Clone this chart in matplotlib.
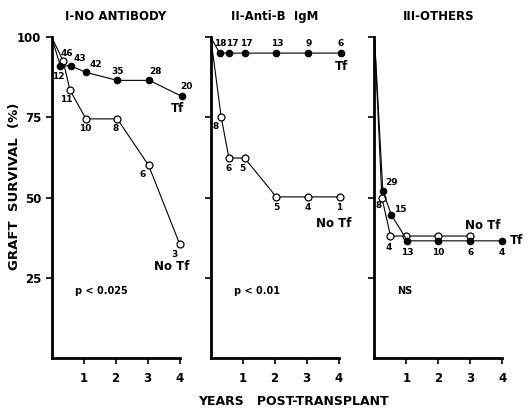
import matplotlib
matplotlib.use('Agg')
import matplotlib.pyplot as plt

plt.rcParams['font.family'] = ['DejaVu Sans']
plt.rcParams['font.weight'] = 'bold'

# panel titles and p-values
titles = ['I-NO ANTIBODY', 'II-Anti-B  IgM', 'III-OTHERS']
pvals = ['p < 0.025', 'p < 0.01', 'NS']

# I - no antibody
i_tf_x = [0, 0.27, 0.6, 1.07, 2.05, 3.05, 4.07]
i_tf_y = [100, 91, 91, 89, 86.5, 86.5, 81.5]
i_notf_x = [0, 0.36, 0.57, 1.07, 2.05, 3.03, 4.0]
i_notf_y = [100, 92.5, 83.5, 74.5, 74.5, 60, 35.5]

# II - anti-B IgM
ii_tf_x = [0, 0.28, 0.58, 1.07, 2.05, 3.05, 4.06]
ii_tf_y = [100, 95, 95, 95, 95, 95, 95]
ii_notf_x = [0, 0.33, 0.57, 1.06, 2.05, 3.05, 4.05]
ii_notf_y = [100, 75, 62.3, 62.3, 50.2, 50.2, 50.2]

# III - others
iii_tf_x = [0, 0.26, 0.53, 1.03, 2.0, 3.0, 3.97]
iii_tf_y = [100, 52, 44.5, 36.5, 36.5, 36.5, 36.5]
iii_notf_x = [0, 0.23, 0.5, 1.0, 1.98, 2.98]
iii_notf_y = [100, 50, 38, 38, 38, 38]

# numbers at risk (label text, x, y)
i_labels = [('46', 0.47, 95), ('12', 0.21, 87.6), ('43', 0.89, 93.3), ('42', 1.37, 91.3),
            ('35', 2.05, 89.2), ('28', 3.24, 89.2), ('20', 4.2, 84.7), ('11', 0.47, 80.5),
            ('10', 1.05, 71.5), ('8', 2.0, 71.5), ('6', 2.84, 57.1), ('3', 3.84, 32.4)]
ii_labels = [('18', 0.29, 98), ('17', 0.68, 98), ('17', 1.11, 98), ('13', 2.07, 98),
             ('9', 3.07, 98), ('6', 4.06, 98), ('8', 0.16, 72.2), ('6', 0.57, 59),
             ('5', 0.99, 59), ('5', 2.04, 47), ('4', 3.02, 47), ('1', 4.03, 47)]
iii_labels = [('29', 0.53, 54.8), ('8', 0.12, 47.5), ('15', 0.81, 46.2), ('4', 0.46, 34.3),
              ('13', 1.03, 32.9), ('10', 2.0, 32.9), ('6', 3.0, 32.9), ('4', 3.97, 32.9)]

# group names (text, x, y)
i_names = [('Tf', 3.94, 77.7), ('No Tf', 3.76, 28.4)]
ii_names = [('Tf', 4.1, 90.7), ('No Tf', 3.85, 41.8)]
iii_names = [('No Tf', 3.39, 41.3), ('Tf', 4.45, 36.6)]

panels = [
    (i_tf_x, i_tf_y, i_notf_x, i_notf_y, i_labels, i_names),
    (ii_tf_x, ii_tf_y, ii_notf_x, ii_notf_y, ii_labels, ii_names),
    (iii_tf_x, iii_tf_y, iii_notf_x, iii_notf_y, iii_labels, iii_names),
]
lefts = [0.0975, 0.3975, 0.7066]

fig = plt.figure(figsize=(5.3, 4.19), dpi=100)

for k in range(3):
    tfx, tfy, ntx, nty, labels, names = panels[k]
    ax = fig.add_axes([lefts[k], 0.1456, 0.2415, 0.766])
    ax.plot(ntx, nty, color='black', lw=0.8, marker='o', markersize=5,
            markerfacecolor='white', markeredgecolor='black', markeredgewidth=0.9,
            markevery=list(range(1, len(ntx))), clip_on=False, zorder=3)
    ax.plot(tfx, tfy, color='black', lw=0.8, marker='o', markersize=4.5,
            markerfacecolor='black', markeredgecolor='black',
            markevery=list(range(1, len(tfx))), clip_on=False, zorder=4)
    for txt, x, y in labels:
        ax.text(x, y, txt, fontsize=6.5, ha='center', va='center', fontweight='bold')
    for txt, x, y in names:
        ax.text(x, y, txt, fontsize=8.5, ha='center', va='center', fontweight='bold')
    ax.text(0.72, 21, pvals[k], fontsize=7, ha='left', va='center', fontweight='bold')

    ax.set_xlim(0, 4)
    ax.set_ylim(0, 100)
    ax.spines['top'].set_visible(False)
    ax.spines['right'].set_visible(False)
    ax.spines['left'].set_linewidth(2)
    ax.spines['bottom'].set_linewidth(2)
    ax.set_xticks([1, 2, 3, 4])
    ax.set_yticks([25, 50, 75, 100])
    ax.tick_params(direction='out', length=4, width=1.2, labelsize=8.5)
    ax.tick_params(axis='x', pad=6)
    if k > 0:
        ax.set_yticklabels([])
    for lab in ax.get_xticklabels() + ax.get_yticklabels():
        lab.set_fontweight('bold')
    ax.set_title(titles[k], fontsize=8.5, fontweight='bold', pad=12)

fig.text(0.027, 0.555, 'GRAFT  SURVIVAL  (%)', rotation=90, fontsize=9.5,
         fontweight='bold', ha='center', va='center')
fig.text(0.553, 0.042, 'YEARS   POST-TRANSPLANT', fontsize=9,
         fontweight='bold', ha='center', va='center')

fig.savefig('out.png', dpi=100)
